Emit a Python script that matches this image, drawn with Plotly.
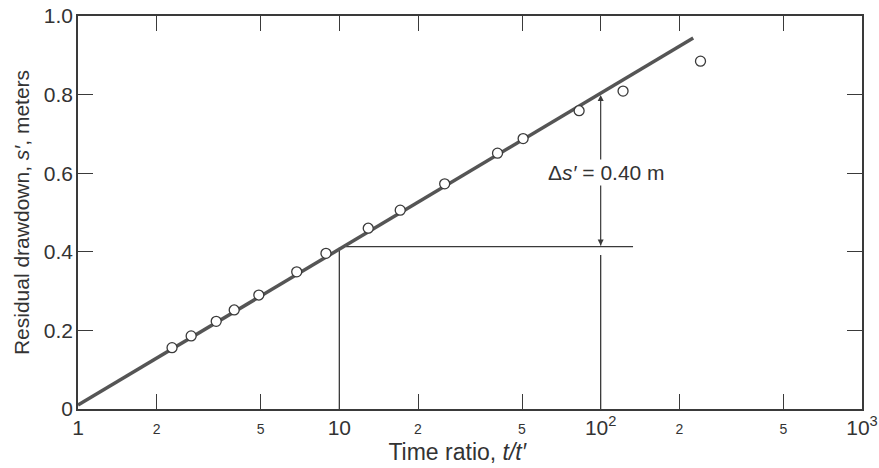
import plotly.graph_objects as go

# Observed data: time ratio t/t' and residual drawdown s' (m)
time_ratio = [2.29, 2.71, 3.38, 3.96, 4.92, 6.87, 8.89, 12.9, 17.1, 25.3, 40.3, 50.5, 82.7, 121.8, 241]
drawdown = [0.156, 0.186, 0.223, 0.252, 0.290, 0.349, 0.396, 0.460, 0.506, 0.573, 0.651, 0.688, 0.759, 0.809, 0.885]

# Fitted straight line (semi-log)
fit_x = [1, 226]
fit_y = [0.010, 0.944]

# Construction lines
vline10_x = [10, 10]
vline10_y = [0.0, 0.41]
hline_x = [10.6, 133]
hline_y = [0.413, 0.413]
vline100_x = [100, 100]
vline100_y = [0.0, 0.392]

# Delta arrow (double-headed, at t/t' = 100)
arrow_x = [100, 100]
arrow_y = [0.416, 0.799]
arrow_mid = 0.603
delta_label = "Δ<i>s′</i> = 0.40 m"

# Ticks
x_major_vals = [1, 10, 100, 1000]
x_major_text = ["1", "10", "10<sup>2</sup>", "10<sup>3</sup>"]
x_minor_vals = [2, 5, 20, 50, 200, 500]
x_minor_text = ["2", "5", "2", "5", "2", "5"]
y_vals = [0, 0.2, 0.4, 0.6, 0.8, 1.0]
y_text = ["0", "0.2", "0.4", "0.6", "0.8", "1.0"]

LINE = "#3a3a3a"
TXT = "#333333"
FONT = "Liberation Sans, Arial, sans-serif"

fig = go.Figure()

for xs, ys in [(vline10_x, vline10_y), (hline_x, hline_y), (vline100_x, vline100_y)]:
    fig.add_trace(go.Scatter(x=xs, y=ys, mode="lines",
                             line=dict(color=LINE, width=1.3), showlegend=False, hoverinfo="skip"))

# double arrow: shaft + heads (arrow symbols have their tip at the data point)
fig.add_trace(go.Scatter(x=arrow_x, y=arrow_y, mode="lines+markers",
                         line=dict(color=LINE, width=1.2),
                         marker=dict(symbol=["arrow-down", "arrow-up"], size=6, color=LINE,
                                     line=dict(width=0)),
                         showlegend=False, hoverinfo="skip"))

fig.add_trace(go.Scatter(x=fit_x, y=fit_y, mode="lines",
                         line=dict(color="#555555", width=3.5), showlegend=False))

fig.add_trace(go.Scatter(x=time_ratio, y=drawdown, mode="markers",
                         marker=dict(symbol="circle", size=10, color="white",
                                     line=dict(color=LINE, width=1.3)),
                         showlegend=False))

# invisible trace to activate xaxis2 (2 and 5 ticks)
fig.add_trace(go.Scatter(x=[1, 1000], y=[0, 0], xaxis="x2", mode="markers",
                         marker=dict(opacity=0), showlegend=False, hoverinfo="skip"))

fig.add_annotation(x=2, y=arrow_mid, xref="x", yref="y", text=delta_label,
                   showarrow=False, bgcolor="white", xanchor="center", xshift=6,
                   font=dict(size=21, color=TXT, family=FONT))

axis_common = dict(showgrid=False, zeroline=False, automargin=False)

fig.update_layout(
    width=879, height=468,
    margin=dict(l=78, r=17, t=16, b=59),
    paper_bgcolor="white", plot_bgcolor="white",
    font=dict(family=FONT, color=TXT),
    xaxis=dict(type="log", range=[0, 3], tickmode="array",
               tickvals=x_major_vals, ticktext=x_major_text,
               ticks="inside", ticklen=15, tickwidth=1.2, tickcolor=LINE,
               showline=True, linecolor=LINE, linewidth=1.5, mirror="ticks",
               tickfont=dict(size=21, color=TXT), ticklabelstandoff=-1,
               title=dict(text="Time ratio, <i>t/t′</i>" + "&nbsp;" * 4,
                          font=dict(size=23, color=TXT), standoff=6),
               **axis_common),
    xaxis2=dict(type="log", range=[0, 3], overlaying="x", anchor="y", side="bottom",
                tickmode="array", tickvals=x_minor_vals, ticktext=x_minor_text,
                ticks="inside", ticklen=15, tickwidth=1.2, tickcolor=LINE,
                showline=True, linecolor=LINE, linewidth=1.5, mirror="ticks",
                tickfont=dict(size=14, color=TXT), ticklabelstandoff=6,
                **axis_common),
    yaxis=dict(range=[0, 1.0], tickmode="array", tickvals=y_vals, ticktext=y_text,
               ticks="inside", ticklen=15, tickwidth=1.2, tickcolor=LINE,
               showline=True, linecolor=LINE, linewidth=1.5, mirror="ticks",
               tickfont=dict(size=21, color=TXT), ticklabelstandoff=-1,
               title=dict(text="Residual drawdown, <i>s′</i>, meters",
                          font=dict(size=21, color=TXT), standoff=8),
               **axis_common),
)

fig.write_html("out.html")
